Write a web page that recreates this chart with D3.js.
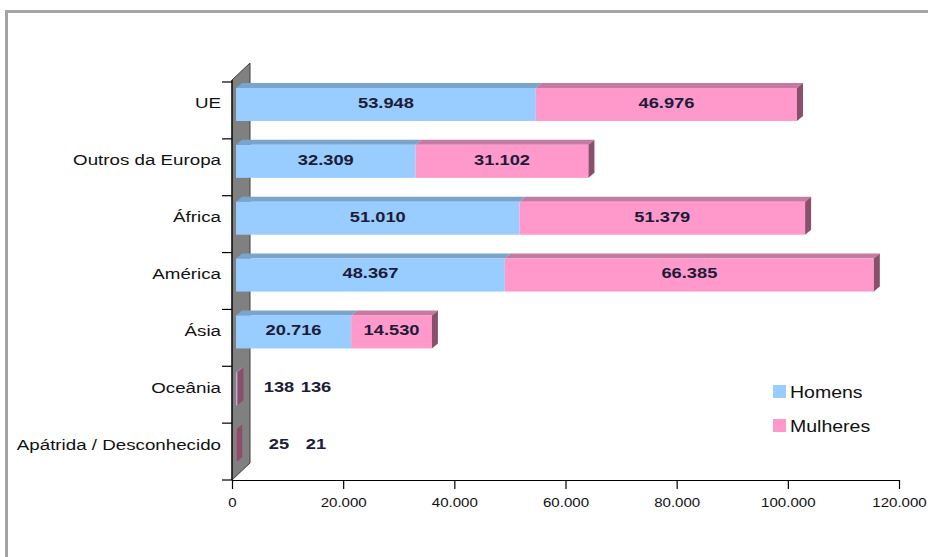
<!DOCTYPE html>
<html>
<head>
<meta charset="utf-8">
<script src="https://cdn.jsdelivr.net/npm/d3@7"></script>
<style>
  html, body { margin: 0; padding: 0; background: #fff; }
  svg { display: block; font-family: Arial, "Liberation Sans", sans-serif; }
</style>
</head>
<body>
<svg id="chart" width="928" height="557"></svg>
<script>
// Population by origin, men and women
const categories = ["UE", "Outros da Europa", "África", "América", "Ásia", "Oceânia", "Apátrida / Desconhecido"];
const homens   = [53948, 32309, 51010, 48367, 20716, 138, 25];
const mulheres = [46976, 31102, 51379, 66385, 14530, 136, 21];
const seriesNames = ["Homens", "Mulheres"];
const xTicks = [0, 20000, 40000, 60000, 80000, 100000, 120000];

const colors = {
  front: ["#99ccff", "#ff99cc"],
  top:   ["#7aa4cc", "#c47aa2"],
  side:  ["#5f809f", "#8a506b"]
};

// text is drawn slightly widened horizontally
const stretch = 1.22;
const stretchCat = 1.25;
const stretchTick = 1.16;

const fmt = v => d3.format(",")(v).replace(/,/g, ".");

const svg = d3.select("#chart");

// outer frame
svg.append("rect")
  .attr("x", 6.5).attr("y", 11.5)
  .attr("width", 940).attr("height", 560)
  .attr("fill", "none").attr("stroke", "#a3a3a3").attr("stroke-width", 3);

const x = d3.scaleLinear().domain([0, 120000]).range([232, 899]);
const y = d3.scaleBand().domain(categories).range([82, 480]).paddingInner(0).paddingOuter(0);

const wallDx = 18, wallDy = 17;   // oblique depth of the side wall
const barShift = 4;               // bars sit slightly behind the front plane
const barDx = 6, barDy = 5;       // bar depth
const barTopOff = 6, barH = 33;   // front face within each band

// side wall
const wx = x(0), wTop = 80, wBot = 480;
svg.append("path")
  .attr("d", `M${wx},${wTop} L${wx + wallDx},${wTop - wallDy} L${wx + wallDx},${wBot - wallDy} L${wx},${wBot} Z`)
  .attr("fill", "#808080").attr("stroke", "#404040").attr("stroke-width", 1);

// bars
const stack = categories.map((c, i) => {
  const vals = [homens[i], mulheres[i]];
  let acc = 0;
  return vals.map((v, s) => {
    const seg = { cat: c, s, v, x0: acc, x1: acc + v, last: s === vals.length - 1 };
    acc += v;
    return seg;
  });
});

const barG = svg.append("g");
stack.forEach((segs, ci) => {
  const yT = y(categories[ci]) + barTopOff;
  const yB = yT + barH;
  segs.forEach(seg => {
    const X0 = x(seg.x0) + barShift, X1 = x(seg.x1) + barShift;
    // top face
    barG.append("path")
      .attr("d", `M${X0},${yT} L${X1},${yT} L${X1 + barDx},${yT - barDy} L${X0 + barDx},${yT - barDy} Z`)
      .attr("fill", colors.top[seg.s]);
    // front face
    barG.append("rect")
      .attr("x", X0).attr("y", yT)
      .attr("width", Math.max(X1 - X0, 0.8)).attr("height", barH)
      .attr("fill", colors.front[seg.s]);
    // end face
    if (seg.last) {
      barG.append("path")
        .attr("d", `M${X1},${yT} L${X1 + barDx},${yT - barDy} L${X1 + barDx},${yB - barDy} L${X1},${yB} Z`)
        .attr("fill", colors.side[seg.s]);
    }
  });
});

// helper: text placed at (px, py) with horizontal widening
function addText(g, px, py, str, s) {
  return g.append("text")
    .attr("transform", `translate(${px},${py}) scale(${s},1)`)
    .attr("dy", "0.36em")
    .text(str);
}

// value labels
const labelG = svg.append("g")
  .attr("font-size", 15).attr("font-weight", "bold").attr("fill", "#1c1c38")
  .attr("text-anchor", "middle");
stack.forEach((segs, ci) => {
  const yMid = y(categories[ci]) + barTopOff + barH / 2 - 2;
  segs.forEach(seg => {
    const X0 = x(seg.x0) + barShift, X1 = x(seg.x1) + barShift;
    const narrow = (X1 - X0) < 40;
    const cx = narrow ? x(0) + barShift + 43 + seg.s * 37 : (X0 + X1) / 2;
    addText(labelG, cx, yMid, fmt(seg.v), stretch);
  });
});

// category axis
const yAxisG = svg.append("g").attr("transform", `translate(${x(0)},0)`);
yAxisG.append("line").attr("x1", 0).attr("x2", 0).attr("y1", wTop).attr("y2", wBot)
  .attr("stroke", "#000").attr("stroke-width", 1.2);
const bounds = categories.map(c => y(c)).concat([y.range()[1]]);
yAxisG.selectAll("line.tk").data(bounds).join("line")
  .attr("class", "tk")
  .attr("x1", -10).attr("x2", 0).attr("y1", d => d).attr("y2", d => d)
  .attr("stroke", "#000").attr("stroke-width", 1.2);
const catG = yAxisG.append("g")
  .attr("text-anchor", "end").attr("font-size", 15).attr("fill", "#111");
categories.forEach(c => addText(catG, -11, y(c) + 21, c, stretchCat));

// value axis
const xAxis = d3.axisBottom(x).tickValues(xTicks).tickFormat(fmt).tickSize(9).tickSizeOuter(0);
const xAxisG = svg.append("g").attr("transform", `translate(0,${wBot})`).call(xAxis);
xAxisG.select(".domain").attr("stroke", "#000").attr("stroke-width", 1.2);
xAxisG.selectAll(".tick line").attr("stroke", "#000").attr("stroke-width", 1.2);
xAxisG.selectAll(".tick text")
  .attr("font-family", "Arial, 'Liberation Sans', sans-serif")
  .attr("font-size", 13).attr("fill", "#111")
  .attr("y", null).attr("dy", "0.36em")
  .attr("transform", `translate(0,22) scale(${stretchTick},1)`);

// legend
const legend = svg.append("g").attr("transform", "translate(773,385)");
seriesNames.forEach((name, i) => {
  const g = legend.append("g").attr("transform", `translate(0,${i * 34})`)
    .attr("font-size", 16).attr("fill", "#111");
  g.append("rect").attr("width", 13).attr("height", 13).attr("fill", colors.front[i]);
  addText(g, 17, 7, name, stretch);
});
</script>
</body>
</html>
